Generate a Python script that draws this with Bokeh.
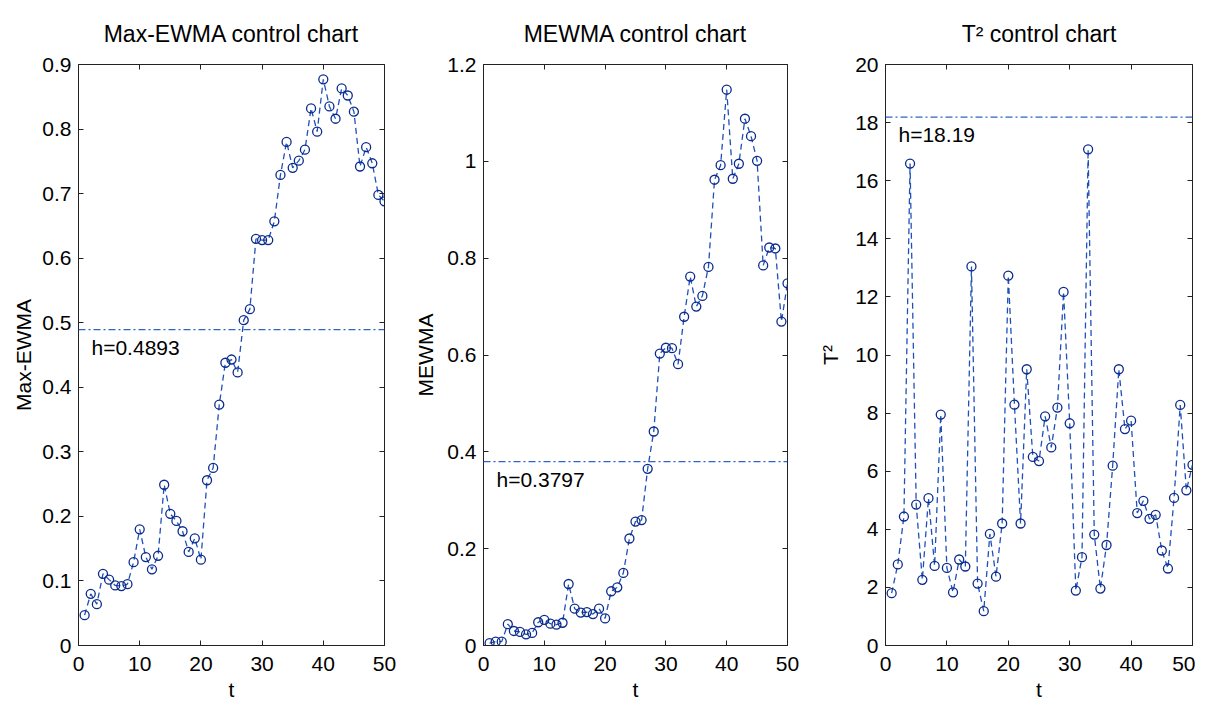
from bokeh.plotting import figure
from bokeh.models import (ColumnDataSource, Range1d, FixedTicker, LinearAxis, Span, Label,
                          CustomJSTickFormatter)
from bokeh.layouts import row
from bokeh.embed import file_html
from bokeh.resources import INLINE

t = list(range(1, 51))

max_ewma = [0.047, 0.080, 0.064, 0.111, 0.102, 0.093, 0.092, 0.095, 0.129, 0.180,
            0.137, 0.118, 0.139, 0.249, 0.204, 0.193, 0.177, 0.145, 0.166, 0.133,
            0.256, 0.275, 0.373, 0.438, 0.443, 0.423, 0.504, 0.521, 0.630, 0.628,
            0.628, 0.657, 0.729, 0.780, 0.740, 0.751, 0.768, 0.832, 0.796, 0.877,
            0.835, 0.816, 0.863, 0.852, 0.827, 0.742, 0.772, 0.747, 0.698, 0.688]

mewma = [0.005, 0.008, 0.008, 0.044, 0.030, 0.028, 0.023, 0.026, 0.048, 0.053,
         0.045, 0.043, 0.047, 0.127, 0.076, 0.068, 0.069, 0.065, 0.076, 0.056,
         0.112, 0.120, 0.150, 0.221, 0.256, 0.259, 0.365, 0.442, 0.603, 0.615,
         0.614, 0.581, 0.679, 0.762, 0.700, 0.722, 0.782, 0.962, 0.992, 1.148,
         0.964, 0.995, 1.088, 1.052, 1.001, 0.785, 0.822, 0.820, 0.669, 0.748]

t2 = [1.80, 2.79, 4.44, 16.59, 4.85, 2.26, 5.07, 2.74, 7.95, 2.67,
      1.83, 2.96, 2.72, 13.05, 2.13, 1.18, 3.84, 2.37, 4.20, 12.73,
      8.29, 4.20, 9.51, 6.49, 6.35, 7.89, 6.82, 8.19, 12.17, 7.65,
      1.89, 3.04, 17.08, 3.82, 1.96, 3.46, 6.19, 9.51, 7.45, 7.74,
      4.56, 4.98, 4.36, 4.50, 3.27, 2.65, 5.08, 8.28, 5.34, 6.22]

titles = ["Max-EWMA control chart", "MEWMA control chart", "T\u00b2 control chart"]
ylabels = ["Max-EWMA", "MEWMA", "T\u00b2"]
limits = [0.4893, 0.3797, 18.19]
limit_texts = ["h=0.4893", "h=0.3797", "h=18.19"]
ymax = [0.9, 1.2, 20]
yticks = [[round(0.1 * i, 1) for i in range(10)],
          [round(0.2 * i, 1) for i in range(7)],
          list(range(0, 21, 2))]
xticks = [0, 10, 20, 30, 40, 50]

FONT = "Liberation Sans"
LINE_C = "#1f50b8"
MARK_C = "#0b2b8c"
H_C = "#2f63c8"

fmt_code = "return String(Math.round(tick*100)/100);"


def make_panel(i, yvals, width, left, right, lab_standoff):
    p = figure(width=width, height=706, output_backend="svg", toolbar_location=None,
               x_range=Range1d(0, 50), y_range=Range1d(0, ymax[i]),
               min_border_left=left, min_border_right=right,
               min_border_top=64, min_border_bottom=61)
    p.grid.visible = False
    p.outline_line_color = "#222222"
    p.outline_line_width = 1
    p.background_fill_color = "white"
    p.border_fill_color = "white"

    p.title.text = titles[i]
    p.title.align = "center"
    p.title.vertical_align = "top"
    p.title.text_font = FONT
    p.title.text_font_size = "23px"
    p.title.text_font_style = "normal"
    p.title.text_color = "black"
    p.title.standoff = 32

    for ax in (p.xaxis[0], p.yaxis[0]):
        ax.major_tick_in = 5
        ax.major_tick_out = 0
        ax.minor_tick_line_color = None
        ax.major_label_text_font = FONT
        ax.major_label_text_font_size = "21px"
        ax.major_label_text_color = "black"
        ax.axis_label_text_font = FONT
        ax.axis_label_text_font_size = "21px"
        ax.axis_label_text_font_style = "normal"
        ax.axis_label_text_color = "black"
        ax.axis_line_color = "#222222"
        ax.major_tick_line_color = "#222222"
        ax.formatter = CustomJSTickFormatter(code=fmt_code)

    p.xaxis[0].ticker = FixedTicker(ticks=xticks)
    p.yaxis[0].ticker = FixedTicker(ticks=yticks[i])
    p.xaxis[0].axis_label = "t"
    p.yaxis[0].axis_label = ylabels[i]
    p.xaxis[0].major_label_standoff = 11
    p.xaxis[0].axis_label_standoff = 4
    p.yaxis[0].major_label_standoff = 7
    p.yaxis[0].axis_label_standoff = lab_standoff

    blank = CustomJSTickFormatter(code="return '';")
    top_ax = LinearAxis(ticker=FixedTicker(ticks=xticks), major_tick_in=5, major_tick_out=0,
                        minor_tick_line_color=None, formatter=blank,
                        major_label_standoff=0, axis_line_color=None,
                        major_tick_line_color="#222222")
    right_ax = LinearAxis(ticker=FixedTicker(ticks=yticks[i]), major_tick_in=5, major_tick_out=0,
                          minor_tick_line_color=None, formatter=blank,
                          major_label_standoff=0, axis_line_color=None,
                          major_tick_line_color="#222222")
    p.add_layout(top_ax, "above")
    p.add_layout(right_ax, "right")

    src = ColumnDataSource(data=dict(t=t, v=yvals))
    p.line("t", "v", source=src, line_color=LINE_C, line_width=1.3, line_dash="6 4")
    p.scatter("t", "v", source=src, marker="circle", size=9, fill_color=None,
              line_color=MARK_C, line_width=1.3)

    p.add_layout(Span(location=limits[i], dimension="width", line_color=H_C,
                      line_width=1.2, line_dash="7 3 2 3"))
    p.add_layout(Label(x=0, y=limits[i], x_offset=13, y_offset=-6, text=limit_texts[i],
                       text_font=FONT, text_font_size="21px", text_color="black",
                       text_baseline="top", text_align="left"))
    return p


p1 = make_panel(0, max_ewma, 411, 78, 27, 4)
p2 = make_panel(1, mewma, 403, 70, 27, 7)
p3 = make_panel(2, t2, 381, 71, 3, 10)

layout = row(p1, p2, p3)
open("out.html", "w").write(file_html(layout, INLINE))
